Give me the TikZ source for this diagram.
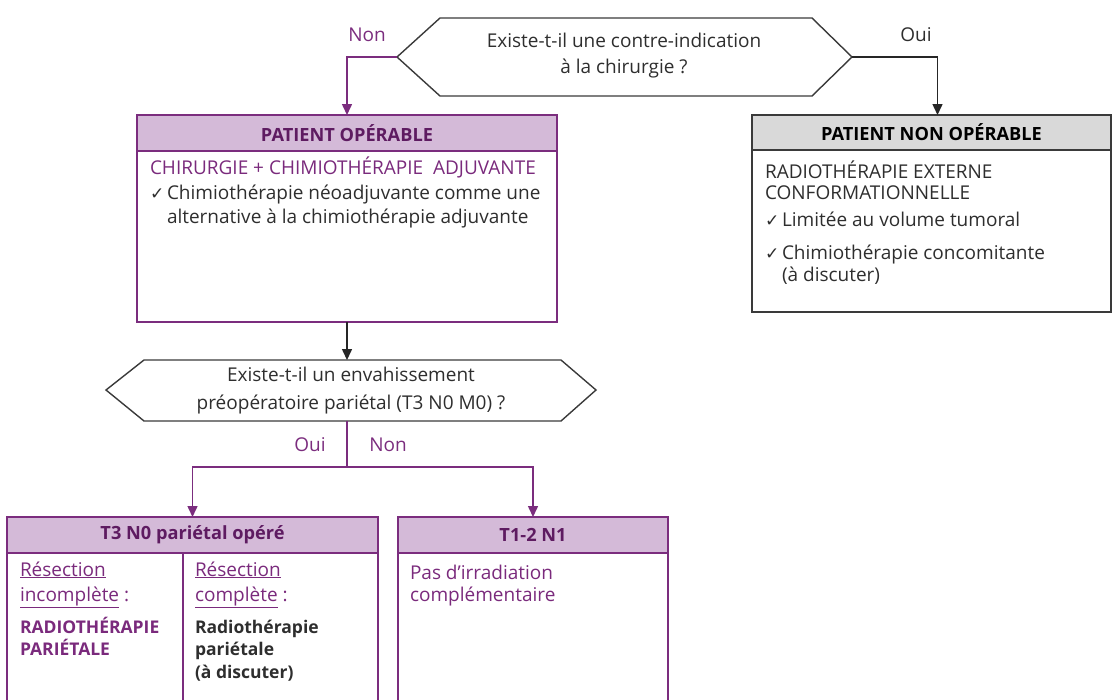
\documentclass[tikz,border=0pt]{standalone}
\usepackage{fontspec}
\setmainfont{Open Sans}
\newfontfamily\symfont{DejaVu Sans}
\usetikzlibrary{arrows.meta}
\definecolor{pur}{HTML}{7B2D7E}
\definecolor{purfill}{HTML}{D4BAD8}
\definecolor{purtext}{HTML}{5E1B61}
\definecolor{bodypur}{HTML}{7A2A7C}
\definecolor{darktext}{HTML}{2E2E2E}
\definecolor{grayfill}{HTML}{D9D9D9}
\definecolor{grayline}{HTML}{3A3A3A}
\newcommand{\ck}{\makebox[17pt][l]{\symfont\fontsize{17}{17}\selectfont ✓}}
\newcommand{\bodyfont}{\fontsize{19}{24}\selectfont}
\newcommand{\hdrfont}{\fontsize{18.2}{24}\selectfont\bfseries}
\newcommand{\emfont}{\fontsize{17.5}{24}\selectfont\bfseries}
\tikzset{
  base/.style={inner sep=0pt, outer sep=0pt, font=\bodyfont},
  phdr/.style={base, draw=pur, line width=1.6pt, fill=purfill, anchor=north west, text=purtext, font=\hdrfont},
  ghdr/.style={base, draw=grayline, line width=1.6pt, fill=grayfill, anchor=north west, text=black, font=\hdrfont},
  pbody/.style={base, draw=pur, line width=1.6pt, anchor=north west},
  gbody/.style={base, draw=grayline, line width=1.6pt, anchor=north west},
  pside/.style={draw=pur, line width=1.6pt},
  hex/.style={draw=grayline, line width=1.4pt},
  txt/.style={base, anchor=base west, align=left},
  ctxt/.style={base, align=center, text=darktext},
  lbl/.style={base, anchor=base},
  pline/.style={draw=pur, line width=1.5pt},
  bline/.style={draw=black!85, line width=1.5pt},
  tip/.style={-{Triangle[length=11pt,width=10pt]}},
}
\begin{document}
\begin{tikzpicture}[x=1pt,y=-1pt]
\useasboundingbox (0,0) rectangle (1113,699);
% top decision
\draw[hex] (397,57) -- (440,18) -- (812,18) -- (852,57) -- (812,96) -- (440,96) -- cycle;
\coordinate (q1w) at (397,57);
\coordinate (q1e) at (852,57);
\node[ctxt, font=\fontsize{19}{26}\selectfont] (q1) at (624,56) {Existe-t-il une contre-indication\\à la chirurgie ?};
\node[lbl, text=pur] (non1) at (367,41) {Non};
\node[lbl, text=darktext] (oui1) at (916,41) {Oui};

% left box
\node[phdr, minimum width=420pt, minimum height=36pt] (opH) at (137,115) {PATIENT OPÉRABLE};
\node[pbody, minimum width=420pt, minimum height=171pt] (opB) at (137,151) {};
\node[txt, text=bodypur] (opT1) at (150,174) {CHIRURGIE + CHIMIOTHÉRAPIE\ \ ADJUVANTE};
\node[txt, text=darktext] (opT2) at (150,199) {\ck Chimiothérapie néoadjuvante comme une};
\node[txt, text=darktext] (opT3) at (167,223) {alternative à la chimiothérapie adjuvante};

% right box
\node[ghdr, minimum width=359pt, minimum height=35pt] (npH) at (752,115) {PATIENT NON OPÉRABLE};
\node[gbody, minimum width=359pt, minimum height=162pt] (npB) at (752,150) {};
\node[txt, text=darktext] (npT1) at (765,178) {RADIOTHÉRAPIE EXTERNE};
\node[txt, text=darktext] (npT2) at (765,199) {CONFORMATIONNELLE};
\node[txt, text=darktext] (npT3) at (765,226) {\ck Limitée au volume tumoral};
\node[txt, text=darktext] (npT4) at (765,259) {\ck Chimiothérapie concomitante};
\node[txt, text=darktext] (npT5) at (782,281) {(à discuter)};

% second decision
\draw[hex] (106,390) -- (144,360) -- (561,360) -- (596,390) -- (561,421) -- (144,421) -- cycle;
\coordinate (q2n) at (347,360);
\coordinate (q2s) at (347,421);
\node[ctxt, font=\fontsize{19}{28}\selectfont] (q2) at (351,391) {Existe-t-il un envahissement\\préopératoire pariétal (T3 N0 M0) ?};
\node[lbl, text=pur] (oui2) at (310,451) {Oui};
\node[lbl, text=pur] (non2) at (388,451) {Non};
\coordinate (split) at (347,467);

% bottom left box
\node[phdr, minimum width=371pt, minimum height=36pt] (t3H) at (7,517) {T3 N0 pariétal opéré};
\draw[pside] (t3H.south west) -- (7,700);
\draw[pside] (t3H.south east) -- (378,700);
\draw[pside] (183,553) -- (183,700);
\node[txt, text=bodypur] (t3a1) at (20,576) {\underline{Résection}};
\node[txt, text=bodypur] (t3a2) at (20,601) {\underline{incomplète} :};
\node[txt, text=bodypur, font=\emfont] (t3a3) at (20,633) {RADIOTHÉRAPIE};
\node[txt, text=bodypur, font=\emfont] (t3a4) at (20,655) {PARIÉTALE};
\node[txt, text=bodypur] (t3b1) at (195,576) {\underline{Résection}};
\node[txt, text=bodypur] (t3b2) at (195,601) {\underline{complète} :};
\node[txt, text=darktext, font=\emfont] (t3b3) at (195,633) {Radiothérapie};
\node[txt, text=darktext, font=\emfont] (t3b4) at (195,655) {pariétale};
\node[txt, text=darktext, font=\emfont] (t3b5) at (195,678) {(à discuter)};

% bottom right box
\node[phdr, minimum width=270pt, minimum height=36pt] (t12H) at (398,517) {T1-2 N1};
\draw[pside] (t12H.south west) -- (398,700);
\draw[pside] (t12H.south east) -- (668,700);
\node[txt, text=bodypur] (t12a) at (410,579) {Pas d’irradiation};
\node[txt, text=bodypur] (t12b) at (410,601) {complémentaire};

% connectors
\draw[pline, tip] (q1w) -| (opH.north);
\draw[bline, tip] (q1e) -| ([xshift=6pt]npH.north);
\draw[bline, tip] (opB.south) -- (q2n);
\draw[pline] (q2s) -- (split);
\draw[pline, tip] (split) -| (t3H.north);
\draw[pline, tip] (split) -| (t12H.north);
\end{tikzpicture}
\end{document}
